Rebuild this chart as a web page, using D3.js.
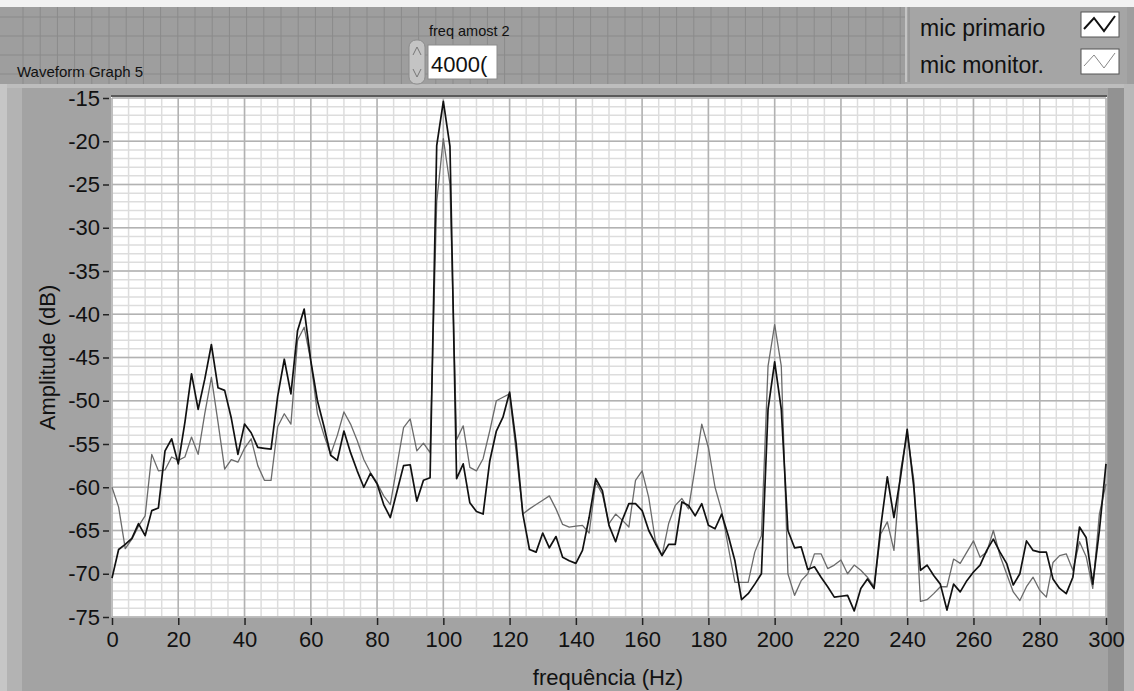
<!DOCTYPE html>
<html>
<head>
<meta charset="utf-8">
<script src="https://cdn.jsdelivr.net/npm/d3@7"></script>
<style>
  html, body { margin: 0; padding: 0; background: #a3a3a3; }
  svg { display: block; }
  text { font-family: "Liberation Sans", Arial, sans-serif; fill: #111; }
</style>
</head>
<body>
<div id="chart"></div>
<script>
// frequency bins (Hz), 2 Hz apart
var freqs = d3.range(0, 301, 2);

// mic primario (dB), black trace
var micPrimario = [
  -70.5, -67.2, -66.6, -65.9, -64.2, -65.6, -62.7, -62.4, -55.8, -54.4,
  -57.3, -52.5, -46.9, -51.0, -47.5, -43.5, -48.5, -48.8, -52.0, -56.2,
  -52.7, -53.7, -55.4, -55.5, -55.6, -49.5, -45.2, -49.2, -41.9, -39.4,
  -45.4, -50.0, -53.0, -56.3, -56.9, -53.5, -56.0, -58.1, -60.0, -58.4,
  -59.6, -62.0, -63.5, -60.5, -57.5, -57.4, -61.6, -59.2, -58.9, -20.5,
  -15.4, -20.6, -59.0, -57.3, -61.8, -62.8, -63.1, -57.0, -53.5, -51.9,
  -49.0, -55.0, -63.1, -67.2, -67.5, -65.3, -67.0, -65.7, -68.1, -68.5,
  -68.8, -67.3, -63.5, -59.0, -60.4, -64.4, -66.3, -63.8, -61.9, -61.9,
  -62.7, -65.0, -66.5, -67.9, -66.6, -66.6, -61.7, -62.1, -63.3, -61.9,
  -64.4, -64.8, -63.1, -65.6, -68.5, -73.0, -72.3, -71.2, -70.0, -51.0,
  -45.5, -51.0, -65.0, -67.0, -66.9, -69.5, -69.2, -70.4, -71.5, -72.7,
  -72.6, -72.5, -74.3, -71.7, -70.6, -71.7, -64.6, -58.8, -63.5, -58.8,
  -53.3, -60.0, -69.6, -69.0, -70.2, -71.2, -74.2, -71.2, -72.1, -70.8,
  -69.8, -69.0, -67.3, -66.0, -67.5, -68.8, -71.3, -70.0, -66.2, -67.3,
  -67.5, -67.5, -70.6, -71.7, -72.3, -70.4, -64.6, -65.8, -71.2, -65.0,
  -57.3
];

// mic monitor. (dB), grey trace
var micMonitor = [
  -60.0, -62.3, -67.1, -66.0, -64.5, -63.3, -56.2, -58.1, -58.0, -56.5,
  -56.9, -56.5, -54.2, -56.2, -51.5, -47.3, -52.5, -57.9, -56.8, -57.1,
  -55.5, -54.4, -57.5, -59.2, -59.2, -53.0, -51.5, -52.7, -43.0, -41.5,
  -45.4, -51.5, -54.0, -56.2, -54.0, -51.3, -52.7, -54.6, -56.8, -58.3,
  -59.5, -61.0, -62.0, -57.5, -53.1, -52.1, -55.8, -54.9, -56.0, -27.0,
  -19.7, -25.0, -54.5, -52.9, -57.7, -58.1, -56.7, -53.5, -50.0, -49.6,
  -49.2, -56.0, -63.1, -62.5, -62.0, -61.5, -61.0, -62.5, -64.3, -64.6,
  -64.5, -64.4, -65.3, -59.4, -60.8, -64.2, -63.1, -63.8, -64.6, -59.2,
  -58.1, -61.2, -66.2, -67.9, -64.2, -62.1, -61.3, -62.5, -57.7, -52.7,
  -55.4, -60.0, -62.7, -66.9, -71.0, -71.0, -71.0, -67.5, -65.6, -46.0,
  -41.2, -46.0, -70.0, -72.5, -70.8, -70.0, -67.7, -67.7, -69.4, -69.0,
  -68.4, -70.0, -69.0, -69.6, -70.4, -71.5, -65.4, -64.0, -67.3, -58.1,
  -53.8, -59.2, -73.2, -73.0, -72.3, -71.5, -71.5, -68.3, -68.8, -67.5,
  -66.2, -68.1, -67.5, -65.0, -67.9, -70.0, -72.1, -73.1, -71.5, -70.4,
  -71.9, -72.7, -68.7, -67.9, -67.7, -69.6, -66.3, -68.0, -71.7, -63.1,
  -59.6
];

var xTicks = [0, 20, 40, 60, 80, 100, 120, 140, 160, 180, 200, 220, 240, 260, 280, 300];
var yTicks = [-15, -20, -25, -30, -35, -40, -45, -50, -55, -60, -65, -70, -75];
var seriesNames = ["mic primario", "mic monitor."];

var W = 1134, H = 691;
var plot = { left: 112, right: 1106, top: 98, bottom: 617 };
var axisFont = "DejaVu Sans Condensed, Liberation Sans, sans-serif";

var svg = d3.select("#chart").append("svg")
  .attr("width", W)
  .attr("height", H);

// ---- front panel background with its grid
svg.append("rect").attr("width", W).attr("height", H).attr("fill", "#9e9e9e");
svg.append("rect").attr("width", W).attr("height", 7).attr("fill", "#f2f2f2");
var panelGrid = svg.append("g").attr("stroke", "#8a8a8a").attr("stroke-width", 1);
d3.range(23, 905, 17.2).forEach(function(gx){
  panelGrid.append("line").attr("x1", gx).attr("x2", gx).attr("y1", 7).attr("y2", 84);
});
[17, 36, 55, 74].forEach(function(gy){
  panelGrid.append("line").attr("x1", 0).attr("x2", 905).attr("y1", gy).attr("y2", gy);
});

// legend panel
svg.append("rect").attr("x", 905).attr("y", 7).attr("width", 222).attr("height", 78)
  .attr("fill", "#a5a5a5");
svg.append("line").attr("x1", 906).attr("x2", 906).attr("y1", 7).attr("y2", 82)
  .attr("stroke", "#c4c4c4").attr("stroke-width", 2);
svg.append("line").attr("x1", 909).attr("x2", 909).attr("y1", 7).attr("y2", 82)
  .attr("stroke", "#8c8c8c").attr("stroke-width", 1);

// ---- graph frame
svg.append("rect").attr("x", 7).attr("y", 84).attr("width", 1121).attr("height", H - 84)
  .attr("fill", "#a3a3a3");
svg.append("rect").attr("x", 7).attr("y", 84).attr("width", 15).attr("height", H - 84)
  .attr("fill", "#b3b3b3");
svg.append("rect").attr("x", 0).attr("y", 84).attr("width", 7).attr("height", H - 84)
  .attr("fill", "#c6c6c6");
svg.append("rect").attr("x", 7).attr("y", 84).attr("width", 1121).attr("height", 4)
  .attr("fill", "#bdbdbd");
svg.append("rect").attr("x", 1108).attr("y", 88).attr("width", 16).attr("height", H - 88)
  .attr("fill", "#929292");
svg.append("rect").attr("x", 1124).attr("y", 84).attr("width", 10).attr("height", H - 84)
  .attr("fill", "#b8b8b8");

// ---- scales
var x = d3.scaleLinear().domain([0, 300]).range([plot.left, plot.right]);
var y = d3.scaleLinear().domain([-75, -15]).range([plot.bottom, plot.top]);

// plot area
svg.append("rect")
  .attr("x", x(0) - 1).attr("y", y(-15) - 2)
  .attr("width", x(300) - x(0) + 2).attr("height", y(-75) - y(-15) + 2)
  .attr("fill", "#ffffff");

var grid = svg.append("g");
// minor grid
grid.selectAll("line.vminor").data(d3.range(0, 301, 5)).join("line")
  .attr("x1", d => x(d)).attr("x2", d => x(d))
  .attr("y1", y(-15)).attr("y2", y(-75))
  .attr("stroke", "#dddddd").attr("stroke-width", 1.5);
grid.selectAll("line.hminor").data(d3.range(-75, -14, 1)).join("line")
  .attr("x1", x(0)).attr("x2", x(300))
  .attr("y1", d => y(d)).attr("y2", d => y(d))
  .attr("stroke", "#dddddd").attr("stroke-width", 1.5);
// major grid
grid.selectAll("line.vmajor").data(xTicks).join("line")
  .attr("x1", d => x(d)).attr("x2", d => x(d))
  .attr("y1", y(-15)).attr("y2", y(-75))
  .attr("stroke", "#b2b2b2").attr("stroke-width", 1.5);
grid.selectAll("line.hmajor").data(yTicks).join("line")
  .attr("x1", x(0)).attr("x2", x(300))
  .attr("y1", d => y(d)).attr("y2", d => y(d))
  .attr("stroke", "#b2b2b2").attr("stroke-width", 1.5);

// plot top edge
svg.append("line")
  .attr("x1", x(0) - 1).attr("x2", x(300) + 1)
  .attr("y1", y(-15) - 2).attr("y2", y(-15) - 2)
  .attr("stroke", "#5a5a5a").attr("stroke-width", 2);

// ---- traces
var line = d3.line()
  .x((d, i) => x(freqs[i]))
  .y(d => y(d));

svg.append("path").datum(micMonitor)
  .attr("d", line)
  .attr("fill", "none")
  .attr("stroke", "#6b6b6b")
  .attr("stroke-width", 1.3)
  .attr("stroke-linejoin", "round");

svg.append("path").datum(micPrimario)
  .attr("d", line)
  .attr("fill", "none")
  .attr("stroke", "#111111")
  .attr("stroke-width", 1.7)
  .attr("stroke-linejoin", "round");

// ---- axes
var xAxis = svg.append("g")
  .attr("transform", "translate(0," + (plot.bottom + 1) + ")")
  .call(d3.axisBottom(x).tickValues(xTicks).tickFormat(d => String(d))
    .tickSize(7).tickPadding(6).tickSizeOuter(0));
xAxis.select(".domain").remove();
xAxis.selectAll(".tick line").attr("stroke", "#222").attr("stroke-width", 1.5);
xAxis.selectAll(".tick text")
  .attr("font-size", 22).attr("font-family", axisFont).attr("fill", "#111");

var yAxis = svg.append("g")
  .attr("transform", "translate(" + (plot.left - 3) + ",0)")
  .call(d3.axisLeft(y).tickValues(yTicks).tickFormat(d => String(d))
    .tickSize(6).tickPadding(3).tickSizeOuter(0));
yAxis.select(".domain").remove();
yAxis.selectAll(".tick line").attr("stroke", "#222").attr("stroke-width", 1.5);
yAxis.selectAll(".tick text")
  .attr("font-size", 22).attr("font-family", axisFont).attr("fill", "#111");

svg.append("text")
  .attr("transform", "translate(55," + ((plot.top + plot.bottom) / 2) + ") rotate(-90)")
  .attr("text-anchor", "middle")
  .attr("font-size", 22)
  .attr("font-family", axisFont)
  .text("Amplitude (dB)");

svg.append("text")
  .attr("x", 608).attr("y", 685)
  .attr("text-anchor", "middle")
  .attr("font-size", 22)
  .attr("font-family", axisFont)
  .text("frequência (Hz)");

// ---- panel labels and control
svg.append("text").attr("x", 17).attr("y", 77).attr("font-size", 15)
  .attr("font-family", axisFont)
  .text("Waveform Graph 5");

svg.append("text").attr("x", 429).attr("y", 36).attr("font-size", 14.5)
  .attr("font-family", axisFont)
  .text("freq amost 2");

// spinner
svg.append("rect").attr("x", 409).attr("y", 40).attr("width", 16).attr("height", 44)
  .attr("rx", 7).attr("fill", "#c4c4c4").attr("stroke", "#8c8c8c");
svg.append("path").attr("d", "M413,55 L417,47 L421,55").attr("fill", "none").attr("stroke", "#777");
svg.append("path").attr("d", "M413,69 L417,77 L421,69").attr("fill", "none").attr("stroke", "#777");
svg.append("rect").attr("x", 428).attr("y", 45).attr("width", 69).attr("height", 34)
  .attr("fill", "#ffffff").attr("stroke", "#8c8c8c");
svg.append("text").attr("x", 431).attr("y", 72).attr("font-size", 22)
  .attr("font-family", axisFont)
  .text("4000(");

// legend
var legend = svg.append("g");
var legendRows = legend.selectAll("g").data(seriesNames).join("g")
  .attr("transform", (d, i) => "translate(0," + (i * 37) + ")");
legendRows.append("text")
  .attr("x", 920).attr("y", 36)
  .attr("font-size", 23)
  .attr("font-family", axisFont)
  .text(d => d);
legendRows.append("rect")
  .attr("x", 1081).attr("y", 12).attr("width", 38).attr("height", 25)
  .attr("fill", "#ffffff").attr("stroke", "#555").attr("stroke-width", 1);
legendRows.append("path")
  .attr("d", "M1084,29 L1094,18 L1104,31 L1115,16")
  .attr("fill", "none")
  .attr("stroke", (d, i) => i === 0 ? "#111" : "#888")
  .attr("stroke-width", (d, i) => i === 0 ? 2 : 1);
</script>
</body>
</html>
